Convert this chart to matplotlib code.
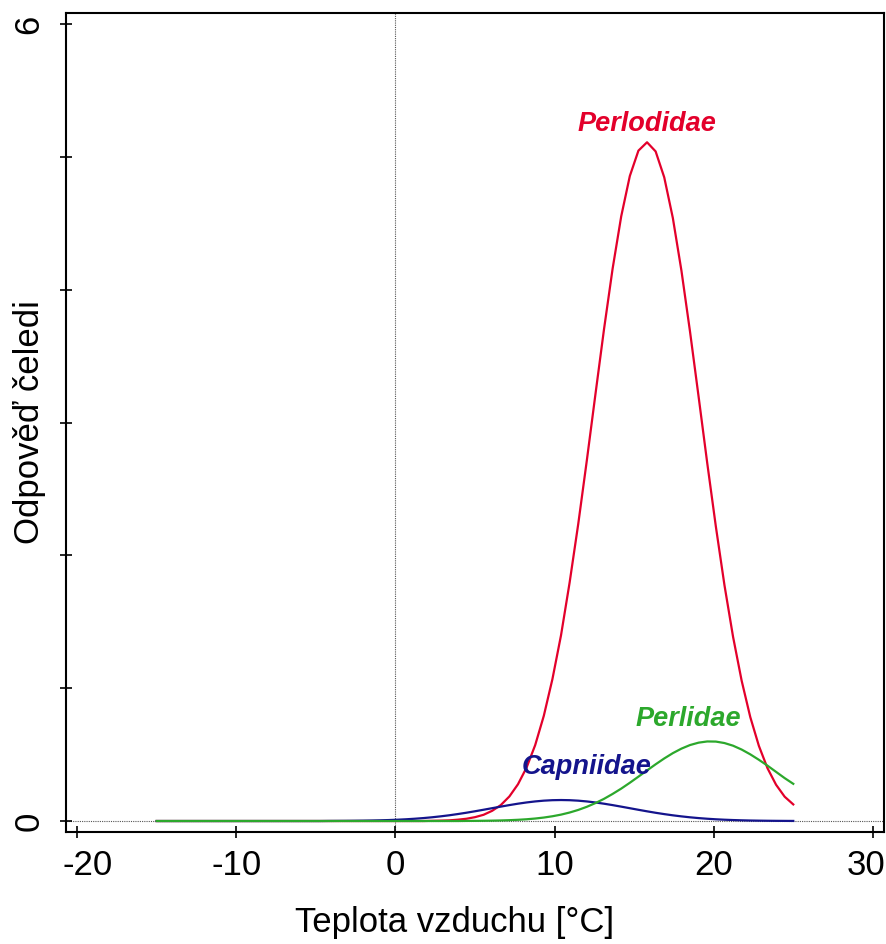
import numpy as np
import matplotlib
matplotlib.use("Agg")
import matplotlib.pyplot as plt
from matplotlib.transforms import ScaledTranslation

plt.rcParams['font.family'] = ['Liberation Sans', 'DejaVu Sans']
plt.rcParams['axes.unicode_minus'] = False

# response curves sampled on the temperature grid (75 points, -15..25 °C)
temp = np.linspace(-15, 25, 75)

perlodidae = [0.0] * 32 + [
    0.0015, 0.003, 0.005, 0.010, 0.017, 0.029, 0.047, 0.077, 0.120, 0.185,
    0.277, 0.403, 0.572, 0.792, 1.068, 1.398, 1.795, 2.235, 2.714, 3.212,
    3.703, 4.159, 4.553, 4.856, 5.047, 5.110, 5.041, 4.846, 4.540, 4.143,
    3.683, 3.192, 2.694, 2.217, 1.776, 1.387, 1.056, 0.783, 0.566, 0.398,
    0.273, 0.183, 0.125]

capniidae = [0.0] * 20 + [
    0.0006, 0.0009, 0.0013, 0.0019, 0.0027, 0.0038, 0.0053, 0.0073, 0.0099,
    0.0131, 0.0172, 0.0221, 0.0281, 0.0351, 0.0431, 0.0524, 0.0624, 0.0734,
    0.0849, 0.0967, 0.1085, 0.1199, 0.1305, 0.1398, 0.1475, 0.1533, 0.1568,
    0.1580, 0.1568, 0.1532, 0.1474, 0.1396, 0.1303, 0.1197, 0.1082, 0.0964,
    0.0845, 0.0730, 0.0620, 0.0520, 0.0429, 0.0349, 0.0279, 0.0220, 0.0171,
    0.0130, 0.0098, 0.0073, 0.0053, 0.0038, 0.0027, 0.0019, 0.0013, 0.0009,
    0.0006]

perlidae = [0.0] * 36 + [
    0.0007, 0.0011, 0.0018, 0.0028, 0.0042, 0.0063, 0.0092, 0.0132, 0.0187,
    0.0261, 0.0358, 0.0481, 0.0639, 0.0834, 0.107, 0.135, 0.167, 0.204,
    0.244, 0.288, 0.334, 0.381, 0.427, 0.471, 0.511, 0.545, 0.572, 0.590,
    0.599, 0.598, 0.587, 0.567, 0.538, 0.502, 0.461, 0.417, 0.370, 0.323,
    0.280]

families = ['Perlodidae', 'Capniidae', 'Perlidae']
colors = ['#E3002B', '#14148C', '#2CA82C']
label_pos = [(15.8, 5.25), (12.0, 0.41), (18.4, 0.77)]

fig = plt.figure(figsize=(8.87, 9.44), dpi=100)
ax = fig.add_axes([0.0744, 0.1186, 0.9222, 0.8676])

ax.axhline(0, color='#555555', lw=0.8, ls=(0, (1, 1)), zorder=1)
ax.axvline(0, color='#555555', lw=0.8, ls=(0, (1, 1)), zorder=1)

for fam, vals, col, (lx, ly) in zip(families, [perlodidae, capniidae, perlidae],
                                    colors, label_pos):
    ax.plot(temp, vals, color=col, lw=1.6, zorder=2)
    ax.text(lx, ly, fam, color=col, fontsize=19.5, fontweight='bold',
            fontstyle='italic', ha='center', va='center')

ax.set_xlim(-20.7, 30.7)
ax.set_ylim(-0.083, 6.083)

ax.set_xticks([-20, -10, 0, 10, 20, 30])
ax.set_xticklabels(['-20', '-10', '0', '10', '20', '30'])
ax.set_yticks(range(7))
ax.set_yticklabels(['0', '', '', '', '', '', '6'])
ax.tick_params(axis='both', direction='inout', length=8, width=1.2,
               labelsize=25)
ax.tick_params(axis='x', pad=8)
ax.tick_params(axis='y', pad=11)
for lab in ax.get_yticklabels():
    lab.set_rotation(90)
    lab.set_va('center')

# keep the outer x tick labels inside the figure
xlabs = ax.get_xticklabels()
xlabs[0].set_transform(xlabs[0].get_transform() +
                       ScaledTranslation(0.10, 0, fig.dpi_scale_trans))
xlabs[-1].set_transform(xlabs[-1].get_transform() +
                        ScaledTranslation(-0.07, 0, fig.dpi_scale_trans))

for sp in ax.spines.values():
    sp.set_linewidth(1.5)

ax.set_xlabel('Teplota vzduchu [°C]', fontsize=25)
ax.xaxis.set_label_coords(0.4756, -0.09)
ax.xaxis.label.set_va('top')
ax.set_ylabel('Odpověď čeledi', fontsize=25)
ax.yaxis.set_label_coords(-0.025, 0.5)

fig.savefig('out.png', dpi=100)
